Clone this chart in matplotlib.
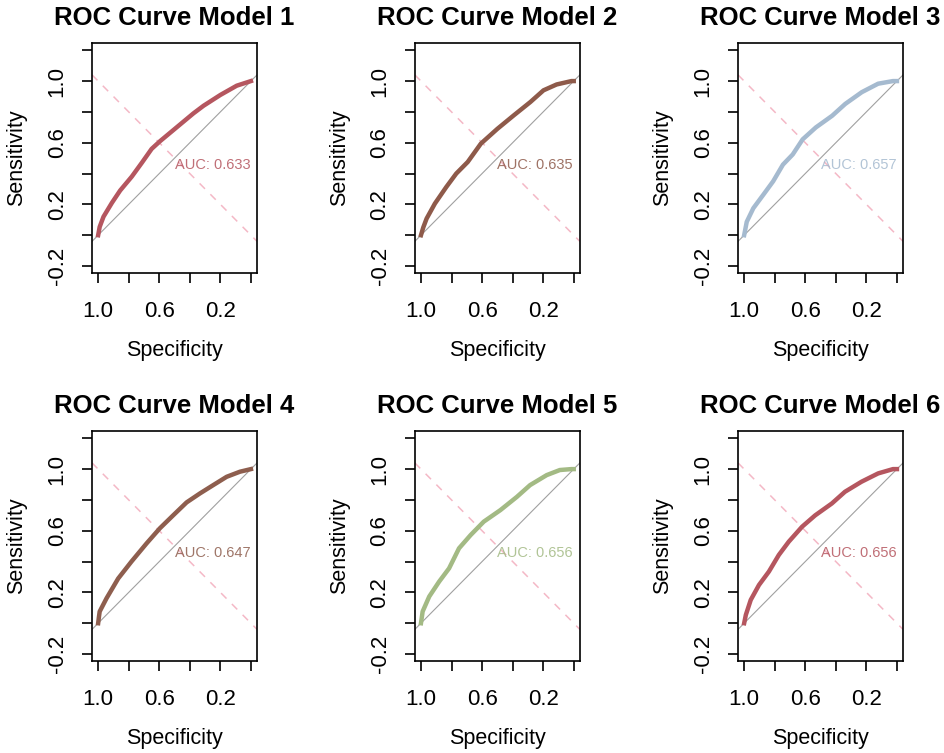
import matplotlib
matplotlib.use('Agg')
import matplotlib.pyplot as plt

plt.rcParams['font.family'] = ['Liberation Sans', 'DejaVu Sans']

# ROC points (specificity, sensitivity)
spec_1 = [1.0, 0.99, 0.965, 0.91, 0.856, 0.78, 0.714, 0.65, 0.595, 0.486, 0.377, 0.31, 0.20, 0.093, 0.0]
sens_1 = [0.0, 0.054, 0.12, 0.21, 0.29, 0.38, 0.47, 0.56, 0.61, 0.70, 0.79, 0.84, 0.91, 0.97, 1.0]

spec_2 = [1.0, 0.985, 0.963, 0.909, 0.834, 0.769, 0.694, 0.608, 0.5, 0.392, 0.284, 0.198, 0.112, 0.015, 0.0]
sens_2 = [0.0, 0.05, 0.108, 0.205, 0.313, 0.40, 0.475, 0.594, 0.69, 0.778, 0.864, 0.94, 0.978, 1.0, 1.0]

spec_3 = [1.0, 0.983, 0.94, 0.875, 0.81, 0.746, 0.682, 0.617, 0.531, 0.424, 0.338, 0.23, 0.123, 0.026, 0.0]
sens_3 = [0.0, 0.087, 0.175, 0.262, 0.35, 0.458, 0.524, 0.622, 0.699, 0.775, 0.852, 0.928, 0.983, 1.0, 1.0]

spec_4 = [1.0, 0.995, 0.99, 0.945, 0.869, 0.782, 0.683, 0.596, 0.509, 0.421, 0.334, 0.247, 0.159, 0.072, 0.0]
sens_4 = [0.0, 0.04, 0.076, 0.162, 0.29, 0.40, 0.518, 0.616, 0.70, 0.784, 0.842, 0.896, 0.95, 0.983, 1.0]

spec_5 = [1.0, 0.989, 0.946, 0.881, 0.816, 0.751, 0.675, 0.589, 0.48, 0.372, 0.286, 0.177, 0.091, 0.015, 0.0]
sens_5 = [0.0, 0.076, 0.173, 0.27, 0.356, 0.486, 0.572, 0.659, 0.734, 0.82, 0.896, 0.961, 0.994, 1.0, 1.0]

spec_6 = [1.0, 0.989, 0.957, 0.903, 0.838, 0.773, 0.708, 0.621, 0.535, 0.426, 0.34, 0.232, 0.123, 0.026, 0.0]
sens_6 = [0.0, 0.054, 0.151, 0.248, 0.335, 0.443, 0.529, 0.626, 0.70, 0.777, 0.853, 0.918, 0.972, 1.0, 1.0]

specs = [spec_1, spec_2, spec_3, spec_4, spec_5, spec_6]
senss = [sens_1, sens_2, sens_3, sens_4, sens_5, sens_6]
aucs = [0.633, 0.635, 0.657, 0.647, 0.656, 0.656]
colors = ['#B5565F', '#8E5A4A', '#A5BACF', '#8E5E4E', '#A3BA84', '#B5565F']

x_ticks = [1.0, 0.8, 0.6, 0.4, 0.2, 0.0]
x_labels = ['1.0', '', '0.6', '', '0.2', '']
y_ticks = [-0.2, 0.0, 0.2, 0.4, 0.6, 0.8, 1.0, 1.2]
y_labels = ['-0.2', '', '0.2', '', '0.6', '', '1.0', '']

fig = plt.figure(figsize=(9.45, 7.53), dpi=100)

lefts = [0.0974, 0.439, 0.781]
bottoms = [0.6375, 0.1222]
w, h = 0.1746, 0.306

for i in range(6):
    r, c = divmod(i, 3)
    ax = fig.add_axes([lefts[c], bottoms[r], w, h])
    ax.set_xlim(1.04, -0.04)
    ax.set_ylim(-0.245, 1.25)

    lim = [1.04, -0.04]
    # chance line and y = x dashed line across the box
    ax.plot(lim, [1 - v for v in lim], color='#A0A0A0', lw=0.8, zorder=1)
    ax.plot(lim, lim, color='#F4B8C6', lw=1.1, ls=(0, (5, 5)), zorder=1)

    ax.plot(specs[i], senss[i], color=colors[i], lw=3.2, zorder=3,
            solid_joinstyle='round')
    ax.text(0.5, 0.5, 'AUC: %.3f' % aucs[i], color=colors[i], alpha=0.85,
            fontsize=10.5, ha='left', va='top', zorder=4)

    ax.set_xticks(x_ticks)
    ax.set_xticklabels(x_labels, fontsize=16)
    ax.set_yticks(y_ticks)
    ax.set_yticklabels(y_labels, fontsize=16, rotation=90, va='center')
    ax.tick_params(axis='x', length=7.5, width=1.2, pad=13)
    ax.tick_params(axis='y', length=7.5, width=1.2, pad=10)
    for s in ax.spines.values():
        s.set_linewidth(1.2)

    ax.text(0.5, 1.076, 'ROC Curve Model %d' % (i + 1), transform=ax.transAxes,
            ha='center', va='baseline', fontsize=18.5, fontweight='bold')
    ax.text(0.5, -0.36, 'Specificity', transform=ax.transAxes,
            ha='center', va='baseline', fontsize=15.5)
    ax.text(-0.455, 0.5, 'Sensitivity', transform=ax.transAxes,
            ha='center', va='center', rotation=90, fontsize=15.5)

fig.savefig('out.png', dpi=100)
